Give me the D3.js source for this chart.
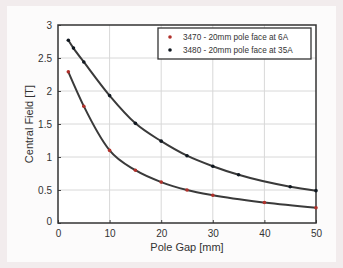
<!DOCTYPE html>
<html>
<head>
<meta charset="utf-8">
<script src="https://cdn.jsdelivr.net/npm/d3@7"></script>
<style>
  body { margin: 0; background: #f2eced; }
  svg { display: block; font-family: "Liberation Sans", Arial, sans-serif; }
</style>
</head>
<body>
<div id="chart"></div>
<script>
// pole gap in mm
const gap_6A = [2, 5, 10, 15, 20, 25, 30, 40, 50];
const field_6A = [2.29, 1.77, 1.10, 0.80, 0.62, 0.50, 0.42, 0.31, 0.23];
const gap_35A = [2, 3, 5, 10, 15, 20, 25, 30, 35, 45, 50];
const field_35A = [2.77, 2.65, 2.44, 1.93, 1.51, 1.24, 1.02, 0.86, 0.73, 0.55, 0.49];
const x_ticks = [0, 10, 20, 30, 40, 50];
const y_ticks = [0, 0.5, 1, 1.5, 2, 2.5, 3];
const legend_names = ["3470 - 20mm pole face at 6A", "3480 - 20mm pole face at 35A"];

const W = 343, H = 268;
const margin = { top: 25, right: 27, bottom: 45, left: 58 };
const width = W - margin.left - margin.right;
const height = H - margin.top - margin.bottom;

const svg = d3.select("#chart").append("svg")
  .attr("width", W)
  .attr("height", H);

// panel
svg.append("rect")
  .attr("x", 7).attr("y", 6)
  .attr("width", 329).attr("height", 256)
  .attr("fill", "#fcfbfb");

const g = svg.append("g")
  .attr("transform", "translate(" + margin.left + "," + margin.top + ")");

const x_scale = d3.scaleLinear().domain([0, 50]).range([0, width]);
const y_scale = d3.scaleLinear().domain([0, 3]).range([height, 0]);

g.append("rect")
  .attr("width", width).attr("height", height)
  .attr("fill", "#ffffff");

// grid
g.append("g").selectAll("line")
  .data(x_ticks.slice(1, -1))
  .join("line")
  .attr("x1", d => x_scale(d)).attr("x2", d => x_scale(d))
  .attr("y1", 0).attr("y2", height)
  .attr("stroke", "#d8d8d8").attr("stroke-width", 1);
g.append("g").selectAll("line")
  .data(y_ticks.slice(1, -1))
  .join("line")
  .attr("y1", d => y_scale(d)).attr("y2", d => y_scale(d))
  .attr("x1", 0).attr("x2", width)
  .attr("stroke", "#d8d8d8").attr("stroke-width", 1);

// axes
const x_axis = g.append("g")
  .attr("transform", "translate(0," + height + ")")
  .call(d3.axisBottom(x_scale).tickValues(x_ticks).tickSize(-3).tickPadding(7));
const y_axis = g.append("g")
  .call(d3.axisLeft(y_scale).tickValues(y_ticks).tickFormat(d3.format("")).tickSize(-3).tickPadding(6));
[x_axis, y_axis].forEach(a => {
  a.select(".domain").remove();
  a.selectAll("line").attr("stroke", "#444");
  a.selectAll("text").attr("fill", "#333").style("font-size", "10px");
});
y_axis.selectAll(".tick text").filter(d => d === 0).attr("dy", "0.1em");

g.append("rect")
  .attr("width", width).attr("height", height)
  .attr("fill", "none").attr("stroke", "#333").attr("stroke-width", 1.5);

const curve = d3.line()
  .x(d => x_scale(d[0]))
  .y(d => y_scale(d[1]))
  .curve(d3.curveMonotoneX);

const series = [
  { gap: gap_6A, field: field_6A, dot: "#b0302a" },
  { gap: gap_35A, field: field_35A, dot: "#101820" }
];

series.forEach(s => {
  const pts = s.gap.map((v, i) => [v, s.field[i]]);
  g.append("path")
    .datum(pts)
    .attr("d", curve)
    .attr("fill", "none")
    .attr("stroke", "#3a3a3a")
    .attr("stroke-width", 2);
  g.append("g").selectAll("circle")
    .data(pts)
    .join("circle")
    .attr("cx", d => x_scale(d[0]))
    .attr("cy", d => y_scale(d[1]))
    .attr("r", 1.8)
    .attr("fill", s.dot);
});

// legend
const lg = g.append("g").attr("transform", "translate(100,3)");
lg.append("rect")
  .attr("width", 153).attr("height", 31)
  .attr("fill", "#fff").attr("stroke", "#333").attr("stroke-width", 1.3);
legend_names.forEach((name, i) => {
  lg.append("circle")
    .attr("cx", 12).attr("cy", 9 + i * 13)
    .attr("r", 1.8)
    .attr("fill", series[i].dot);
  lg.append("text")
    .attr("x", 25).attr("y", 9 + i * 13)
    .attr("dy", "0.35em")
    .attr("fill", "#333")
    .style("font-size", "8.2px")
    .text(name);
});

// axis labels
svg.append("text")
  .attr("x", margin.left + width / 2).attr("y", 251)
  .attr("text-anchor", "middle")
  .attr("fill", "#333")
  .style("font-size", "11px")
  .text("Pole Gap [mm]");
svg.append("text")
  .attr("transform", "translate(33," + (margin.top + height / 2) + ") rotate(-90)")
  .attr("text-anchor", "middle")
  .attr("fill", "#333")
  .style("font-size", "11px")
  .text("Central Field [T]");
</script>
</body>
</html>
